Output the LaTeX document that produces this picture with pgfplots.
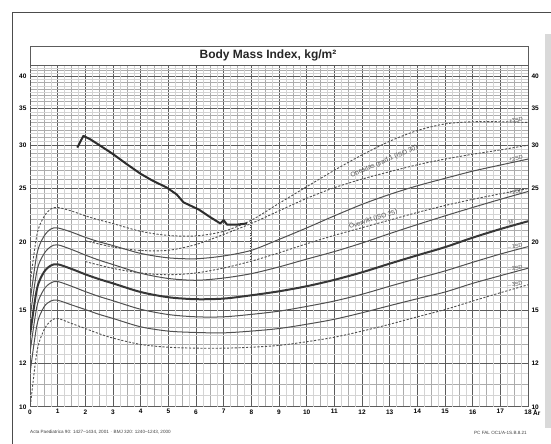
\documentclass[border=0pt]{standalone}
\usepackage{fontspec}
\setmainfont{Liberation Sans}
\usepackage{pgfplots}
\pgfplotsset{compat=1.18}
\definecolor{gridmaj}{RGB}{92,92,92}
\definecolor{gridmin}{RGB}{172,172,172}
\definecolor{gridfine}{RGB}{212,212,212}
\definecolor{curve}{RGB}{80,80,80}
\definecolor{mcurve}{RGB}{55,55,55}
\definecolor{patient}{RGB}{45,45,45}
\begin{document}
\begin{tikzpicture}[x=1pt,y=1pt]
\path[use as bounding box] (0pt,0pt) rectangle (551pt,444pt);
\fill[white] (0pt,0pt) rectangle (551pt,444pt);
\draw[gray!60!black, line width=0.9pt] (12pt,0pt) -- (12pt,432pt) -- (551pt,432pt);
\fill[gray!30] (545pt,16pt) rectangle (551pt,410pt);
\begin{axis}[
  at={(30pt,37pt)}, anchor=south west, scale only axis,
  width=498pt, height=342pt,
  xmin=0, xmax=18, ymode=log, ymin=10, ymax=42,
  xtick={0,1,...,18},
  minor xtick={0.5,1.5,...,17.5},
  extra x ticks={0.25,0.75,...,17.75},
  extra x tick labels={},
  extra x tick style={grid=major, major grid style={gridfine, line width=0.4pt}},
  ytick={10,12,15,20,25,30,35,40},
  yticklabels={10,12,15,20,25,30,35,40},
  minor ytick={11,13,14,16,17,18,19,21,22,23,24,26,27,28,29,31,32,33,34,36,37,38,39,41,42},
  extra y ticks={10.5,11.5,...,41.5},
  extra y tick labels={},
  extra y tick style={grid=major, major grid style={gridfine, line width=0.4pt}},
  grid=both,
  major grid style={gridmaj, line width=1pt},
  minor grid style={gridmin, line width=0.55pt},
  major tick length=0pt, minor tick length=0pt,
  axis line style={gridmaj, line width=1pt},
  /pgf/number format/assume math mode=true,
  xticklabel style={font=\fontsize{6.5}{7}\selectfont\bfseries, yshift=1pt},
  yticklabel style={font=\fontsize{6.5}{7}\selectfont\bfseries},
  clip=true,
]
% +3 SD (dashed)
\addplot[curve, line width=0.9pt, dash pattern=on 2.2pt off 1.6pt, smooth, tension=0.5] coordinates {
(0,16.7) (0.25,20.6) (0.5,22.2) (0.75,22.95) (1,23.1) (1.5,22.76) (2,22.3) (2.5,21.92) (3,21.59) (4,20.9) (5,20.54) (6,20.5) (7,20.9) (8,21.9) (9,23.5) (10,25.2) (11,27.0) (12,28.8) (13,30.5) (14,31.9) (15,32.8) (16,33.1) (17,33.1) (18,33.0)};
% ISO 30 (dashed)
\addplot[curve, line width=0.9pt, dash pattern=on 2.2pt off 1.6pt, smooth, tension=0.5] coordinates {
(2,20.09) (3,19.57) (4,19.29) (5,19.30) (6,19.78) (7,20.63) (8,21.60) (9,22.77) (10,24.00) (11,25.10) (12,26.02) (13,26.84) (14,27.63) (15,28.30) (16,28.88) (17,29.41) (18,30.0)};
% +2 SD
\addplot[curve, line width=1pt, smooth, tension=0.5] coordinates {
(0,15.5) (0.25,19.0) (0.5,20.45) (0.75,21.1) (1,21.2) (1.5,20.83) (2,20.38) (2.5,20.0) (3,19.69) (4,19.05) (5,18.7) (6,18.63) (7,18.85) (8,19.3) (9,20.2) (10,21.2) (11,22.3) (12,23.4) (13,24.4) (14,25.3) (15,26.1) (16,26.9) (17,27.6) (18,28.3)};
% ISO 25 (dashed)
\addplot[curve, line width=0.9pt, dash pattern=on 2.2pt off 1.6pt, smooth, tension=0.5] coordinates {
(2,18.41) (3,17.89) (4,17.55) (5,17.42) (6,17.55) (7,17.92) (8,18.44) (9,19.10) (10,19.84) (11,20.55) (12,21.22) (13,21.91) (14,22.62) (15,23.29) (16,23.90) (17,24.46) (18,25.0)};
% +1 SD
\addplot[curve, line width=1pt, smooth, tension=0.5] coordinates {
(0,14.5) (0.25,17.7) (0.5,19.0) (0.75,19.6) (1,19.75) (1.5,19.37) (2,18.92) (2.5,18.52) (3,18.18) (4,17.53) (5,17.15) (6,17.02) (7,17.18) (8,17.5) (9,18.0) (10,18.6) (11,19.2) (12,19.9) (13,20.7) (14,21.5) (15,22.3) (16,23.1) (17,23.9) (18,24.7)};
% M
\addplot[mcurve, line width=2pt, smooth, tension=0.5] coordinates {
(0,13.5) (0.25,16.4) (0.5,17.6) (0.75,18.1) (1,18.2) (1.5,17.85) (2,17.45) (2.5,17.1) (3,16.8) (4,16.2) (5,15.85) (6,15.72) (7,15.76) (8,15.98) (9,16.25) (10,16.6) (11,17.05) (12,17.6) (13,18.25) (14,18.9) (15,19.56) (16,20.35) (17,21.1) (18,21.8)};
% -1 SD
\addplot[curve, line width=1pt, smooth, tension=0.5] coordinates {
(0,12.55) (0.25,15.25) (0.5,16.37) (0.75,16.83) (1,16.93) (1.5,16.6) (2,16.23) (2.5,15.9) (3,15.62) (4,15.07) (5,14.74) (6,14.6) (7,14.6) (8,14.75) (9,14.95) (10,15.25) (11,15.6) (12,16.05) (13,16.6) (14,17.15) (15,17.7) (16,18.35) (17,19.0) (18,19.6)};
% -2 SD
\addplot[curve, line width=1pt, smooth, tension=0.5] coordinates {
(0,11.5) (0.25,14.1) (0.5,15.2) (0.75,15.6) (1,15.65) (1.5,15.35) (2,15.05) (2.5,14.75) (3,14.5) (4,14.0) (5,13.75) (6,13.67) (7,13.65) (8,13.75) (9,13.9) (10,14.15) (11,14.45) (12,14.85) (13,15.3) (14,15.75) (15,16.2) (16,16.8) (17,17.35) (18,17.9)};
% -3 SD (dashed)
\addplot[curve, line width=0.9pt, dash pattern=on 2.2pt off 1.6pt, smooth, tension=0.5] coordinates {
(0,9.9) (0.25,12.6) (0.5,13.8) (0.75,14.35) (1,14.5) (1.5,14.2) (2,13.9) (2.5,13.6) (3,13.35) (4,13.0) (5,12.85) (6,12.8) (7,12.8) (8,12.85) (9,12.95) (10,13.15) (11,13.4) (12,13.75) (13,14.15) (14,14.6) (15,15.05) (16,15.6) (17,16.15) (18,16.7)};
% current-age marker (dotted)
\addplot[curve, line width=0.6pt, dotted] coordinates {(7.95,18.6) (7.95,21.9)};
% patient
\addplot[patient, line width=2pt, line join=round] coordinates {
(1.71,29.7) (1.93,31.2) (2.2,30.7) (2.6,29.8) (3.0,28.9) (3.5,27.7) (4.0,26.6) (4.4,25.9) (4.95,25.1) (5.3,24.4) (5.55,23.6) (6.1,22.9) (6.5,22.2) (6.88,21.6) (7.0,21.9) (7.12,21.5) (7.5,21.5) (7.85,21.6)};
% curve labels
\begin{scope}[every node/.style={font=\fontsize{5.5}{6}\selectfont, text=curve, inner sep=0.5pt, rotate=10, anchor=south east}]
\node at (axis cs:17.85,33.1) {+3SD};
\node at (axis cs:17.85,28.2) {+2SD};
\node at (axis cs:17.85,24.55) {+1SD};
\node at (axis cs:17.5,21.5) {M};
\node at (axis cs:17.85,19.45) {$-$1SD};
\node at (axis cs:17.85,17.75) {$-$2SD};
\node at (axis cs:17.85,16.6) {$-$3SD};
\end{scope}
\node[font=\fontsize{6.5}{7}\selectfont, text=curve, rotate=23] at (axis cs:12.8,28.0) {Obesitas grad 1 (ISO 30)};
\node[font=\fontsize{6.5}{7}\selectfont, text=curve, rotate=18] at (axis cs:12.4,22.0) {Övervikt (ISO 25)};
\end{axis}
\begin{axis}[
  at={(30pt,37pt)}, anchor=south west, scale only axis,
  width=498pt, height=342pt,
  xmin=0, xmax=18, ymode=log, ymin=10, ymax=42,
  axis x line=none, axis y line*=right,
  y axis line style={draw=none},
  ytick={10,12,15,20,25,30,35,40},
  yticklabels={10,12,15,20,25,30,35,40},
  major tick length=0pt,
  yticklabel style={font=\fontsize{6.5}{7}\selectfont\bfseries},
]
\end{axis}
% title band
\draw[gridmaj, fill=white, line width=0.9pt] (30pt,379pt) rectangle (528pt,398pt);
\node[font=\fontsize{12}{14}\selectfont\bfseries, text=black!85] at (268pt,388.5pt) {Body Mass Index, kg/m²};
\node[font=\fontsize{6.5}{7}\selectfont\bfseries, anchor=west, inner sep=0pt] at (533pt,31pt) {År};
\node[font=\fontsize{4.6}{5}\selectfont, anchor=west, inner sep=0pt, text=black!75] at (30pt,11.5pt) {Acta Paediatrica 90: 1427--1434, 2001 $\cdot$ BMJ 320: 1240--1243, 2000};
\node[font=\fontsize{4.6}{5}\selectfont, anchor=east, inner sep=0pt, text=black!75] at (527pt,11.5pt) {PC FAL OC1/A-1S.B.8.21};
\end{tikzpicture}
\end{document}
